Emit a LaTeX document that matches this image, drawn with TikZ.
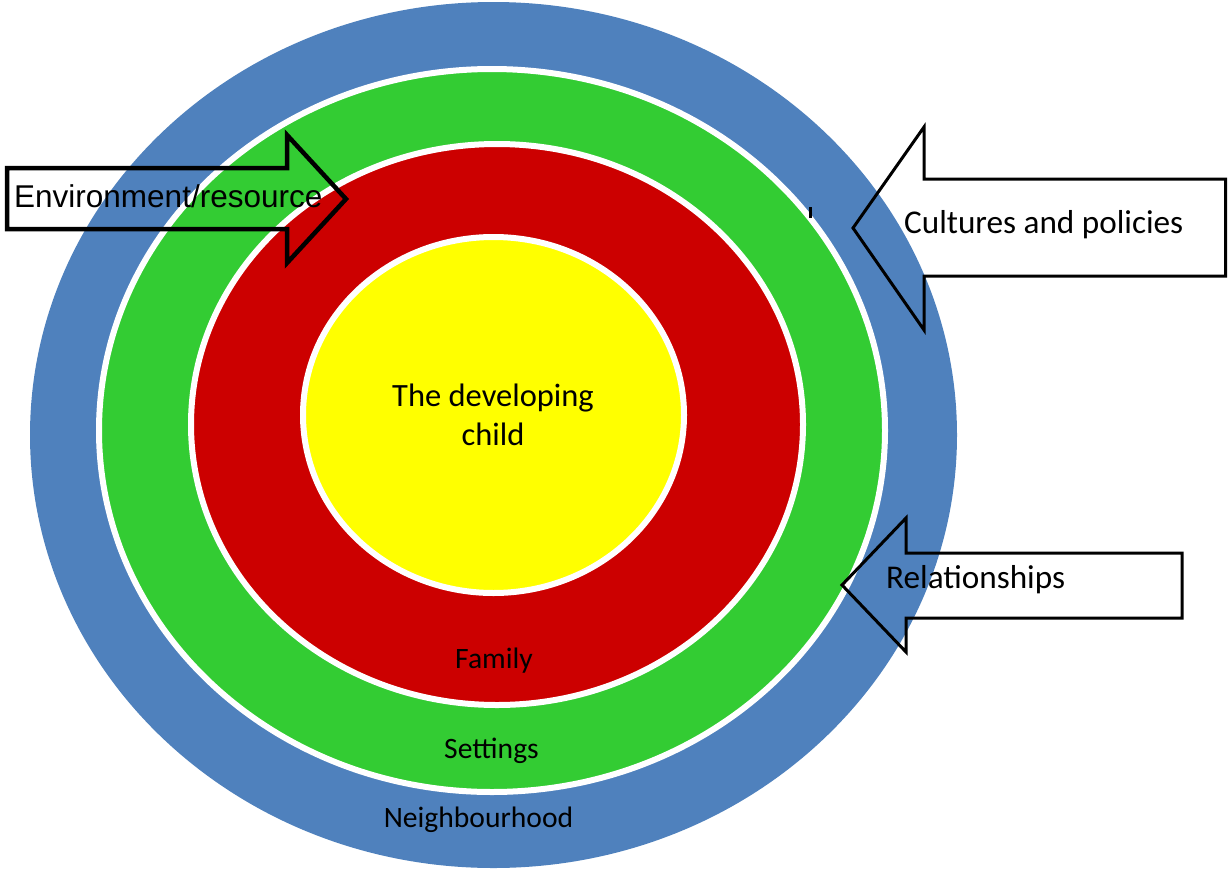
\documentclass[tikz,border=0pt]{standalone}
\usepackage{fontspec}
\setmainfont{Carlito}
\newfontfamily\arialfont{Liberation Sans}
\usetikzlibrary{shapes.geometric}
\definecolor{ringblue}{HTML}{4F81BD}
\definecolor{ringgreen}{HTML}{33CC33}
\definecolor{ringred}{HTML}{CC0000}
\definecolor{ringyellow}{HTML}{FFFF00}
\tikzset{
	ring/.style n args={3}{
		ellipse, draw=white, line width=6pt, fill={#1},
		minimum width={#2}, minimum height={#3}, inner sep=0pt
	},
	lbl/.style={inner sep=0pt, font=\fontsize{32.5}{39}\selectfont},
	ringlbl/.style={inner sep=0pt, anchor=base, font=\fontsize{29.6}{36}\selectfont},
	sidelbl/.style={inner sep=0pt, anchor=base west, font=\fontsize{33.2}{40}\selectfont},
	blockarrow/.style={draw=black, line width=3pt, line join=miter}
}
\begin{document}
\begin{tikzpicture}[x=1pt, y=-1pt]
\useasboundingbox (0,0) rectangle (1228,870);
\node[ring={ringblue}{927pt}{866pt}, draw=none] (neigh) at (493.5, 435) {};
\node[ring={ringgreen}{786pt}{723pt}] (sett) at (492, 430.5) {};
\node[ring={ringred}{612pt}{561pt}] (fam) at (497, 424.5) {};
\node[ring={ringyellow}{381pt}{356pt}] (child) at (493.5, 415) {};
\draw[line width=3.5pt] (810.5,207) -- (810.5,218);
% arrows
\draw[blockarrow, line width=4.5pt] (7,168) -- (287,168) -- (287,135) -- (346,199) -- (287,263) -- (287,229) -- (7,229) -- cycle;
\draw[blockarrow] (1225.5,179) -- (924,179) -- (924,127) -- (853,228) -- (924,330) -- (924,276) -- (1225.5,276) -- cycle;
\draw[blockarrow] (1182,553) -- (906,553) -- (906,518) -- (842,585) -- (906,652) -- (906,618) -- (1182,618) -- cycle;
% labels
\node[lbl, anchor=base] (tchild1) at (493, 406) {The developing};
\node[lbl, anchor=base] (tchild2) at (493, 445) {child};
\node[ringlbl] (tfam) at (494, 668) {Family};
\node[ringlbl] (tsett) at (491.5, 758) {Settings};
\node[ringlbl] (tneigh) at (478.5, 827) {Neighbourhood};
\node[sidelbl] (tcult) at (904, 233) {Cultures and policies};
\node[sidelbl] (trel) at (886, 588) {Relationships};
\node[inner sep=0pt, anchor=base west, font=\arialfont\fontsize{31.5}{38}\selectfont] (tenv) at (14, 207) {Environment/resource};
\end{tikzpicture}
\end{document}
